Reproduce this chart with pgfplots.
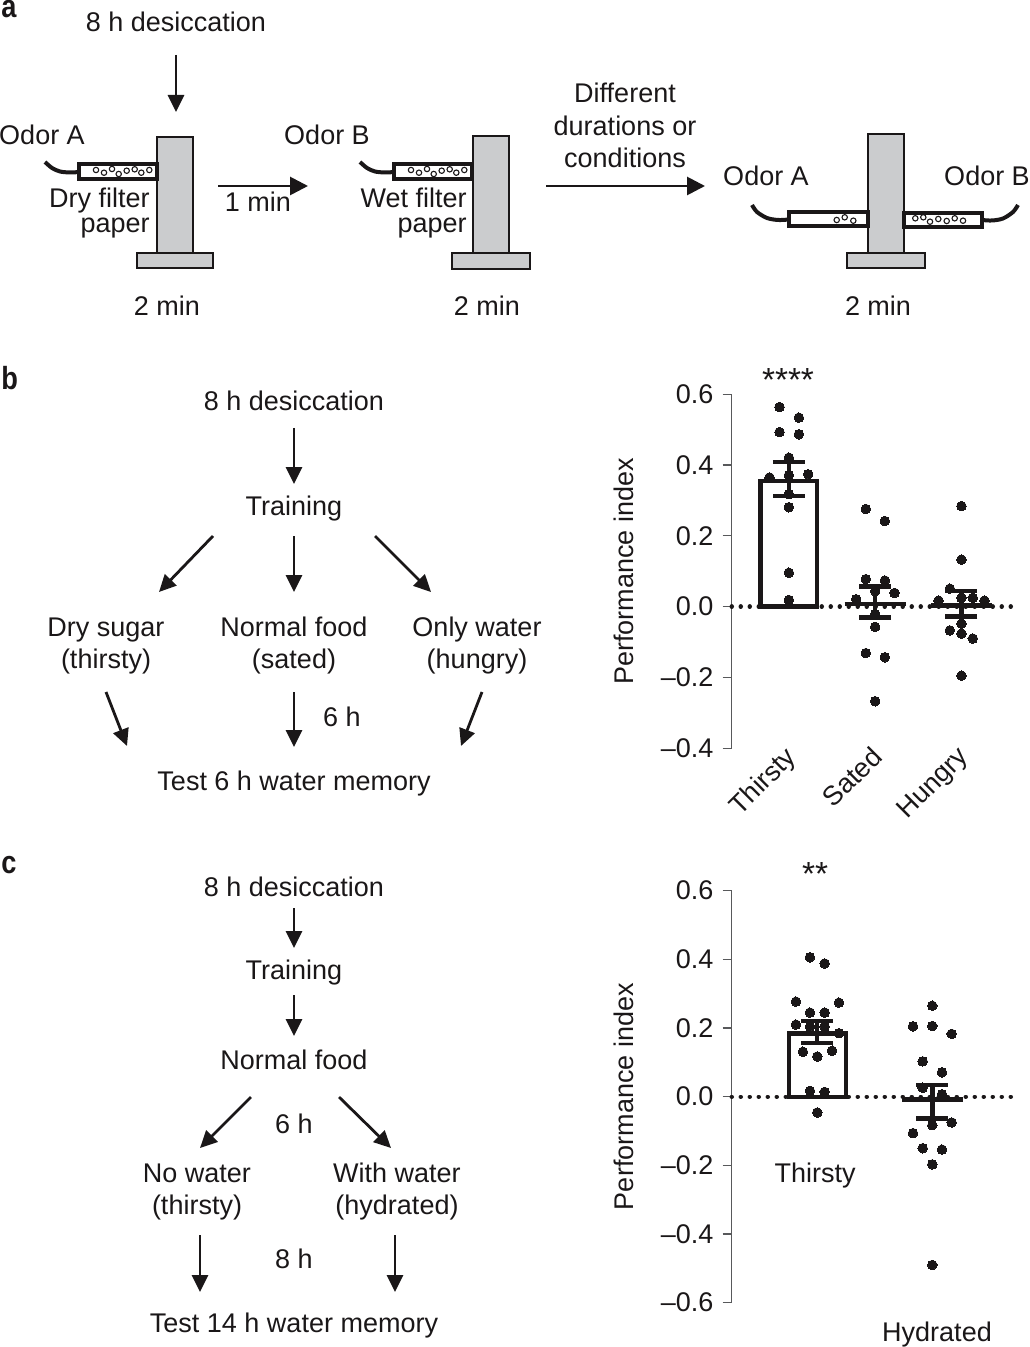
\documentclass[border=0pt]{standalone}
\usepackage{fontspec}
\setmainfont{Liberation Sans}
\usepackage{pgfplots}
\pgfplotsset{compat=1.18}
\usetikzlibrary{arrows.meta}
\definecolor{ink}{HTML}{1A1718}
\definecolor{towergray}{HTML}{CBCCCE}
\definecolor{axisgray}{HTML}{58595B}

% 1 px of the figure = 0.5pt
\newcommand\txt[3]{\node[anchor=base,font=\fontsize{13.5}{15}\selectfont,text=ink,inner sep=0pt] at (axis cs:#1,#2) {#3};}
\newcommand\txtr[3]{\node[anchor=base east,font=\fontsize{13.5}{15}\selectfont,text=ink,inner sep=0pt] at (axis cs:#1,#2) {#3};}
\newcommand\stars[3]{\node[anchor=base,font=\fontsize{16.7}{18}\selectfont,text=ink,inner sep=0pt] at (axis cs:#1,#2) {#3};}
\newcommand\panel[3]{\node[anchor=base west,xscale=0.85,font=\bfseries\fontsize{16}{16}\selectfont,text=ink,inner sep=0pt] at (axis cs:#1,#2) {#3};}
\newcommand\arr[4]{\addplot[ink,line width=1.4pt,-{Triangle[length=8.5pt,width=8pt]}] coordinates {(#1,#2)(#3,#4)};}
\newcommand\bigarr[4]{\addplot[ink,line width=1.4pt,-{Triangle[length=9pt,width=9pt]}] coordinates {(#1,#2)(#3,#4)};}
\newcommand\boxpoly[5]{\addplot[draw=ink,fill=#5,line width=1.3pt] coordinates {(#1,#2)(#3,#2)(#3,#4)(#1,#4)} --cycle;}
\newcommand\tube[4]{\addplot[draw=ink,fill=white,line width=1.8pt] coordinates {(#1,#2)(#3,#2)(#3,#4)(#1,#4)} --cycle;}
\newcommand\curve[1]{\addplot[ink,line width=2pt,smooth] coordinates {#1};}
\newcommand\bubbles[1]{\addplot[only marks,mark=o,mark size=1.35pt,mark options={draw=ink,fill=white,line width=0.55pt}] coordinates {#1};}

\pgfplotsset{
  dataaxis/.style={
    scale only axis,
    width=143.15pt,
    clip=false,
    axis y line=left,
    axis x line=bottom,
    x axis line style={draw=none},
    y axis line style={-,draw=axisgray,line width=0.6pt},
    xtick style={draw=none},
    ytick style={draw=axisgray,line width=0.6pt},
    tick align=outside,
    major tick length=4.5pt,
    tick label style={text=ink,font=\fontsize{13.5}{15}\selectfont},
    label style={text=ink,font=\fontsize{13.5}{15}\selectfont},
    yticklabel style={inner sep=0pt,xshift=-4.5pt},
    ylabel=Performance index,
  },
  dots/.style={only marks,mark=*,mark size=2.4pt,mark options={draw=ink,fill=ink,line width=0pt}},
  zeroline/.style={ink,line width=2.2pt,line cap=round,dash pattern=on 0.05pt off 4.45pt},
  barline/.style={ybar,bar shift=0pt,draw=ink,fill=none,line width=2.2pt},
  meanline/.style={ink,line width=2.3pt},
  sem/.style={draw=none,mark=none,error bars/.cd,y dir=both,y explicit,
    error bar style={ink,line width=2.2pt},
    error mark options={rotate=90,ink,mark size=8pt,line width=2.2pt}},
}

\begin{document}
\begin{tikzpicture}
\path[use as bounding box] (0,0) rectangle (514.5pt,673.5pt);

% diagrams, in figure pixels
\begin{axis}[at={(0,0)},anchor=south west,scale only axis,width=514.5pt,height=673.5pt,
  xmin=0,xmax=1029,ymin=0,ymax=1347,y dir=reverse,hide axis,clip=false]

\panel{1}{17.5}{a}
\panel{1}{390}{b}
\panel{1}{873}{c}

% panel a
\txt{176}{32}{8 h desiccation}
\arr{176}{55}{176}{112}
\txt{42}{145}{Odor A}
\boxpoly{157}{137}{193}{253}{towergray}
\boxpoly{137}{253}{213}{268}{towergray}
\tube{79}{164}{157}{179}
\curve{(45,162)(52,168)(60,171.5)(70,172.5)(79,172)}
\bubbles{(96,170)(104,172.7)(112,169)(118.7,174)(126.7,170.7)(134.7,169.3)(141.3,172.7)(149.3,170)}
\txtr{150}{208}{Dry filter}
\txtr{150}{233}{paper}
\bigarr{218}{186}{308}{186}
\txt{258}{212}{1 min}
\txt{167}{316}{2 min}

\txt{327}{145}{Odor B}
\boxpoly{473}{136}{509}{253}{towergray}
\boxpoly{452}{253}{530}{269}{towergray}
\tube{394}{164}{472}{179}
\curve{(360,162)(367,168)(375,171.5)(385,172.5)(394,172)}
\bubbles{(411,170)(419,172.7)(427,169)(433.7,174)(441.7,170.7)(449.7,169.3)(456.3,172.7)(464.3,170)}
\txtr{467}{208}{Wet filter}
\txtr{467}{233}{paper}
\txt{487}{316}{2 min}

\txt{625}{103}{Different}
\txt{625}{136}{durations or}
\txt{625}{168}{conditions}
\bigarr{546}{186}{705}{186}

\txt{766}{186}{Odor A}
\txt{987}{186}{Odor B}
\boxpoly{868}{134}{904}{253}{towergray}
\boxpoly{847}{253}{925}{268}{towergray}
\tube{789}{212}{868}{226}
\tube{904}{213}{982}{227}
\curve{(752,205)(757,212)(767,218)(778,220)(789,219.5)}
\curve{(1018,205)(1013,212)(1003,218.5)(992,220.5)(982,220)}
\bubbles{(836.7,220)(844.7,217.3)(853.3,220.7)}
\bubbles{(915.3,218.3)(923.3,217.3)(930,221.7)(938.3,219)(946.7,221)(954.7,218.3)(963,220.7)}
\txt{878}{316}{2 min}

% panel b
\txt{294}{410}{8 h desiccation}
\arr{294}{428}{294}{484}
\txt{294}{515}{Training}
\arr{213}{536}{159}{592}
\arr{294}{536}{294}{592}
\arr{375}{536}{431}{592}
\txt{106}{636}{Dry sugar}
\txt{106}{668}{(thirsty)}
\txt{294}{636}{Normal food}
\txt{294}{668}{(sated)}
\txt{477}{636}{Only water}
\txt{477}{668}{(hungry)}
\arr{106}{692}{127}{746}
\arr{294}{692}{294}{747}
\arr{482}{692}{461}{746}
\txt{342}{726}{6 h}
\txt{294}{790}{Test 6 h water memory}

% panel c
\txt{294}{896}{8 h desiccation}
\arr{294}{908}{294}{948}
\txt{294}{979}{Training}
\arr{294}{995}{294}{1036}
\txt{294}{1069}{Normal food}
\arr{251}{1097}{200}{1148}
\arr{339}{1097}{391}{1148}
\txt{294}{1133}{6 h}
\txt{197}{1182}{No water}
\txt{197}{1214}{(thirsty)}
\txt{397}{1182}{With water}
\txt{397}{1214}{(hydrated)}
\arr{200}{1235}{200}{1292}
\arr{395}{1235}{395}{1292}
\txt{294}{1268}{8 h}
\txt{294}{1332}{Test 14 h water memory}

% labels that sit away from the data axes
\stars{788}{392}{****}
\stars{815}{885}{**}
\txt{815}{1182}{Thirsty}
\txt{937}{1341}{Hydrated}
\end{axis}

% panel b chart
\begin{axis}[dataaxis,at={(365.85pt,299.35pt)},anchor=south west,height=177pt,
  xmin=-0.662,xmax=2.655,ymin=-0.4,ymax=0.6,
  ytick={-0.4,-0.2,0,0.2,0.4,0.6},
  yticklabels={--0.4,--0.2,0.0,0.2,0.4,0.6},
  xtick={0,1,2},xticklabels={Thirsty,Sated,Hungry},
  xticklabel style={rotate=45,anchor=north east,inner sep=0pt,xshift=2.7pt,yshift=6.4pt},
  ylabel style={at={(axis description cs:-0.376,0.5)},anchor=center},
]
\addplot[barline,bar width=0.659] coordinates {(0,0.355)};
\addplot[zeroline] coordinates {(-0.662,0)(2.655,0)};
\addplot[sem] coordinates {
  (0,0.355) += (0,0.054) -= (0,0.042)
  (1,0.0075) += (0,0.049) -= (0,0.0385)
  (2,0.003) += (0,0.041) -= (0,0.031)
};
\addplot[meanline] coordinates {(0.645,0.0075)(1.355,0.0075)};
\addplot[meanline] coordinates {(1.65,0.003)(2.35,0.003)};
\addplot[dots] coordinates {
  (-0.108,0.564)(0.116,0.534)(-0.108,0.493)(0.116,0.487)(0,0.421)(-0.224,0.365)
  (0,0.371)(0.224,0.374)(0,0.318)(0,0.281)(0,0.096)(0,0.019)
};
\addplot[dots] coordinates {
  (0.892,0.276)(1.112,0.242)(0.892,0.078)(1.112,0.074)(1,0.044)(1.224,0.039)
  (0.780,0.021)(1,-0.021)(1,-0.057)(0.892,-0.131)(1.112,-0.143)(1,-0.267)
};
\addplot[dots] coordinates {
  (2,0.284)(2,0.133)(1.865,0.051)(1.734,0.017)(2,0.025)(2.131,0.025)
  (2.266,0.017)(2,-0.048)(1.865,-0.067)(2,-0.076)(2.131,-0.090)(2,-0.195)
};
\end{axis}

% panel c chart
\begin{axis}[dataaxis,at={(365.85pt,22.15pt)},anchor=south west,height=206pt,
  xmin=-0.744,xmax=1.745,ymin=-0.6,ymax=0.6,
  ytick={-0.6,-0.4,-0.2,0,0.2,0.4,0.6},
  yticklabels={--0.6,--0.4,--0.2,0.0,0.2,0.4,0.6},
  xtick=\empty,
  ylabel style={at={(axis description cs:-0.376,0.5)},anchor=center},
]
\addplot[barline,bar width=0.496] coordinates {(0,0.184)};
\addplot[zeroline] coordinates {(-0.744,0)(1.745,0)};
\addplot[sem] coordinates {
  (0,0.184) += (0,0.037) -= (0,0.027)
  (1,-0.008) += (0,0.042) -= (0,0.055)
};
\addplot[meanline] coordinates {(0.736,-0.008)(1.264,-0.008)};
\addplot[dots] coordinates {
  (-0.064,0.406)(0.064,0.388)(-0.186,0.277)(0.188,0.274)(-0.064,0.245)(0.064,0.245)
  (-0.186,0.210)(-0.064,0.204)(0.064,0.204)(0.188,0.185)(-0.125,0.131)(0.128,0.134)
  (0,0.117)(-0.064,0.017)(0.064,0.014)(0,-0.046)
};
\addplot[dots] coordinates {
  (1,0.265)(0.832,0.205)(1,0.206)(1.168,0.183)(0.916,0.103)(1.084,0.071)
  (0.916,0.026)(1.084,0.007)(1,-0.083)(1.168,-0.075)(0.832,-0.106)(0.916,-0.150)
  (1.084,-0.154)(1,-0.197)(1,-0.490)
};
\end{axis}
\end{tikzpicture}
\end{document}
